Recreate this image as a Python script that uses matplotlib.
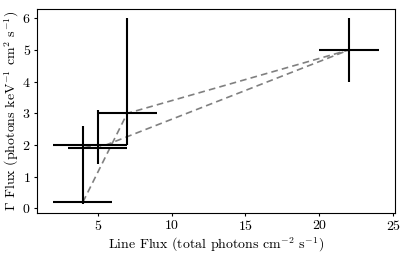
import matplotlib
matplotlib.use("Agg")
import matplotlib.pyplot as plt
import numpy as np

plt.rcParams["font.family"] = "serif"
plt.rcParams["font.serif"] = ["cmr10"]
plt.rcParams["mathtext.fontset"] = "cm"
plt.rcParams["axes.formatter.use_mathtext"] = True
plt.rcParams["font.size"] = 10

# error-bar crosses: centre, lower/upper errors
line_flux = [4, 7, 22, 5, 4]
gamma_flux = [0.2, 3, 5, 1.9, 2]
x_lo = [2, 2, 2, 2, 2]
x_hi = [2, 2, 2, 2, 3]
y_lo = [0, 1, 1, 0.5, 1.85]
y_hi = [0, 3, 1, 1.2, 0.6]

# order of the dashed connecting line
path = [0, 1, 2, 3, 4]

fig = plt.figure(figsize=(4.07, 2.56), dpi=100)
ax = fig.add_axes([0.091, 0.168, 0.879, 0.797])

ax.plot(np.take(line_flux, path), np.take(gamma_flux, path),
        ls="--", color="grey", lw=1.2, dashes=(4, 2.5))
ax.errorbar(line_flux, gamma_flux, xerr=[x_lo, x_hi], yerr=[y_lo, y_hi],
            fmt="none", ecolor="black", elinewidth=1.5, capsize=0)

ax.set_xticks([5, 10, 15, 20, 25])
ax.set_yticks([0, 1, 2, 3, 4, 5, 6])
ax.tick_params(length=2.5, width=0.8, pad=2)
ax.set_xlabel(r"Line Flux (total photons cm$^{-2}$ s$^{-1}$)", labelpad=2)
ax.set_ylabel(r"$\Gamma$ Flux (photons keV$^{-1}$ cm$^{2}$ s$^{-1}$)", labelpad=0.5)

fig.savefig("out.png", dpi=100)
